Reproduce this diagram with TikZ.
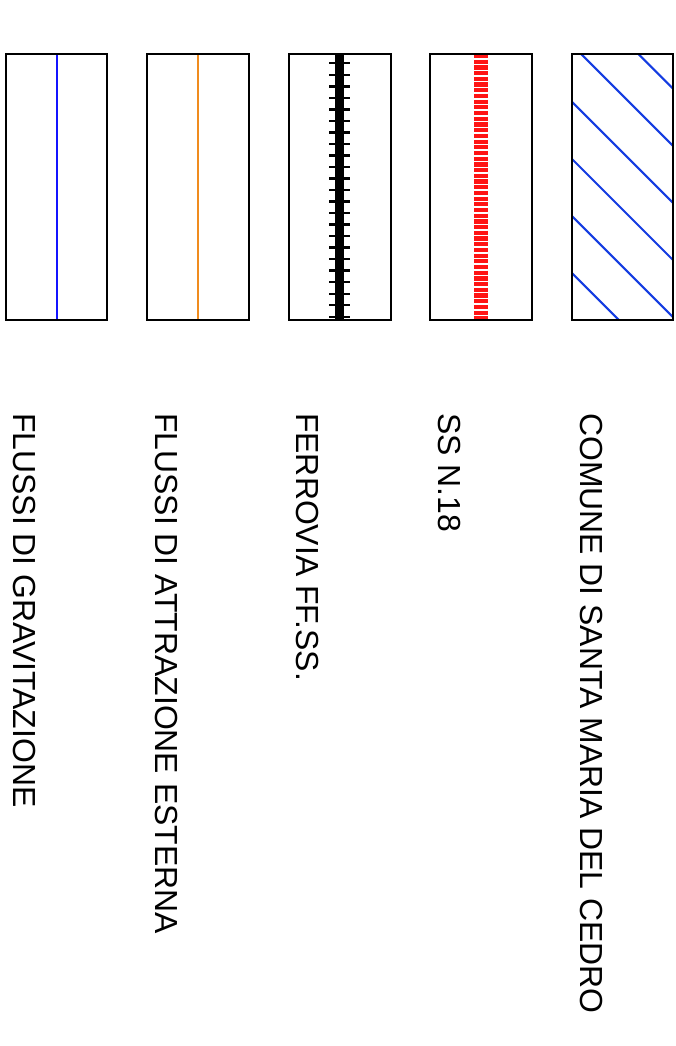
\documentclass[tikz,border=0pt]{standalone}
\usepackage{fontspec}
\setmainfont{Liberation Sans}
\definecolor{flowblue}{RGB}{20,20,255}
\definecolor{flowora}{RGB}{240,140,30}
\definecolor{hatchblue}{RGB}{20,60,225}
\definecolor{roadred}{RGB}{255,20,20}
\begin{document}
\begin{tikzpicture}[x=1pt,y=-1pt,
  frame/.style={draw=black,line width=2pt},
  lbl/.style={rotate=-90,anchor=base west,inner sep=0pt,font=\fontsize{31.9}{36}\selectfont}]
\useasboundingbox (0,0) rectangle (676,1046);
% box 1: flussi di gravitazione
\draw[flowblue,line width=2pt] (56.5,54) -- (56.5,320);
\draw[frame] (5.5,54) rectangle (107,320);
% box 2: flussi di attrazione esterna
\draw[flowora,line width=2pt] (198,54) -- (198,320);
\draw[frame] (147,54) rectangle (249,320);
% box 3: ferrovia
\draw[black,line width=9pt] (339.5,54) -- (339.5,320);
\foreach \i in {0,...,22}
  \draw[black,line width=2.4pt] (329,63.3+11.52*\i) -- (350,63.3+11.52*\i);
\draw[frame] (288.5,54) rectangle (390.5,320);
% box 4: SS n.18
\draw[roadred,line width=13.5pt,dash pattern=on 4.2pt off 1.5pt] (481,54) -- (481,320);
\draw[frame] (430,54) rectangle (531.5,320);
% box 5: comune
\begin{scope}
\clip (571.5,54) rectangle (673.3,320);
\foreach \c in {298.8,355.9,413,470.1,527.2,584.3}
  \draw[hatchblue,line width=2.1pt] (\c,0) -- (\c+400,400);
\end{scope}
\draw[frame] (571.5,54) rectangle (673.3,320);
% labels
\node[lbl] (t1) at (13.5,413) {FLUSSI DI GRAVITAZIONE};
\node[lbl] (t2) at (155,413) {FLUSSI DI ATTRAZIONE ESTERNA};
\node[lbl] (t3) at (296.5,413) {FERROVIA FF.SS.};
\node[lbl] (t4) at (438,413) {SS N.18};
\node[lbl] (t5) at (580,413) {COMUNE DI SANTA MARIA DEL CEDRO};
\end{tikzpicture}
\end{document}
